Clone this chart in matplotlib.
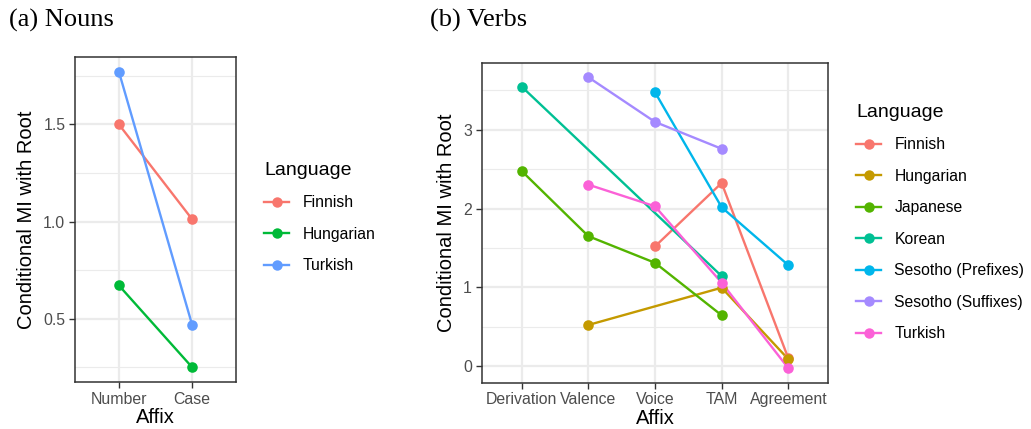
import numpy as np
import matplotlib
matplotlib.use("Agg")
import matplotlib.pyplot as plt
from matplotlib.lines import Line2D

# ---------------- data ----------------
noun_affixes = ["Number", "Case"]
noun_languages = ["Finnish", "Hungarian", "Turkish"]
noun_finnish = [1.50, 1.012]
noun_hungarian = [0.671, 0.25]
noun_turkish = [1.771, 0.469]

verb_affixes = ["Derivation", "Valence", "Voice", "TAM", "Agreement"]
verb_languages = ["Finnish", "Hungarian", "Japanese", "Korean",
                  "Sesotho (Prefixes)", "Sesotho (Suffixes)", "Turkish"]
nan = np.nan
verb_finnish = [nan, nan, 1.52, 2.325, 0.10]
verb_hungarian = [nan, 0.523, nan, 0.996, 0.089]
verb_japanese = [2.477, 1.65, 1.312, 0.646, nan]
verb_korean = [3.548, nan, nan, 1.143, nan]
verb_sesotho_pre = [nan, nan, 3.477, 2.017, 1.282]
verb_sesotho_suf = [nan, 3.667, 3.10, 2.759, nan]
verb_turkish = [nan, 2.304, 2.029, 1.059, -0.025]

noun_colors = ["#F8766D", "#00BA38", "#619CFF"]
verb_colors = ["#F8766D", "#C49A00", "#53B400", "#00C094",
               "#00B6EB", "#A58AFF", "#FB61D7"]

# ---------------- style ----------------
plt.rcParams["font.family"] = ["Liberation Sans", "DejaVu Sans"]
W, H = 1031, 429
fig = plt.figure(figsize=(W / 100, H / 100), dpi=100)

def px_axes(x0, y0, x1, y1):
    return fig.add_axes([x0 / W, 1 - y1 / H, (x1 - x0) / W, (y1 - y0) / H])

def style_axes(ax, minor_ticks):
    ax.set_facecolor("white")
    for s in ax.spines.values():
        s.set_color("#333333")
        s.set_linewidth(1.1)
    ax.set_axisbelow(True)
    ax.grid(True, which="major", color="#EBEBEB", linewidth=1.6, zorder=0)
    ax.set_yticks(minor_ticks, minor=True)
    ax.grid(True, which="minor", axis="y", color="#EBEBEB", linewidth=0.8, zorder=0)
    ax.tick_params(axis="both", which="major", direction="out", length=4,
                   width=1.0, color="#333333", labelcolor="#4D4D4D",
                   labelsize=11.4, pad=3)
    ax.tick_params(axis="y", which="minor", length=0)
    ax.set_xlabel("Affix", fontsize=14.5, color="black", labelpad=1)
    ax.set_ylabel("Conditional MI with Root", fontsize=14.5, color="black", labelpad=5)

def plot_series(ax, xcats, values, color):
    x = np.arange(len(xcats))
    v = np.array(values, dtype=float)
    m = ~np.isnan(v)
    ax.plot(x[m], v[m], color=color, linewidth=1.7, zorder=2,
            solid_capstyle="butt")
    return x[m], v[m]

def ggp_range(vals):
    lo, hi = np.nanmin(vals), np.nanmax(vals)
    e = (hi - lo) * 0.05
    return lo - e, hi + e

# ---------------- (a) Nouns ----------------
ax1 = px_axes(75, 57, 236, 382)
noun_series = [noun_finnish, noun_hungarian, noun_turkish]
pts = [plot_series(ax1, noun_affixes, s, c) for s, c in zip(noun_series, noun_colors)]
for (x, v), c in zip(pts, noun_colors):
    ax1.scatter(x, v, s=58, color=c, zorder=3, linewidths=0)
ax1.set_xticks(range(len(noun_affixes)))
ax1.set_xticklabels(noun_affixes)
ax1.set_xlim(-0.6, len(noun_affixes) - 0.4)
ax1.set_ylim(*ggp_range(np.concatenate(noun_series)))
ax1.set_yticks([0.5, 1.0, 1.5])
ax1.set_yticklabels(["0.5", "1.0", "1.5"])
style_axes(ax1, [0.25, 0.75, 1.25, 1.75])

# ---------------- (b) Verbs ----------------
ax2 = px_axes(481.7, 62.7, 828.3, 382.7)
verb_series = [verb_finnish, verb_hungarian, verb_japanese, verb_korean,
               verb_sesotho_pre, verb_sesotho_suf, verb_turkish]
pts = [plot_series(ax2, verb_affixes, s, c) for s, c in zip(verb_series, verb_colors)]
for (x, v), c in zip(pts, verb_colors):
    ax2.scatter(x, v, s=58, color=c, zorder=3, linewidths=0)
ax2.set_xticks(range(len(verb_affixes)))
ax2.set_xticklabels(verb_affixes)
ax2.set_xlim(-0.6, len(verb_affixes) - 0.4)
ax2.set_ylim(*ggp_range(np.concatenate(verb_series)))
ax2.set_yticks([0, 1, 2, 3])
style_axes(ax2, [0.5, 1.5, 2.5, 3.5])

# ---------------- legends ----------------
def make_legend(ax, labels, colors, x_px, y_px):
    handles = [Line2D([0], [0], color=c, linewidth=1.7, marker="o",
                      markersize=7.5, markeredgewidth=0) for c in colors]
    leg = ax.legend(handles, labels, title="Language", loc="upper left",
                    bbox_to_anchor=(x_px / W, 1 - y_px / H),
                    bbox_transform=fig.transFigure, frameon=False,
                    fontsize=11.3, title_fontsize=14, handlelength=1.6,
                    handletextpad=0.85, labelspacing=1.05, borderpad=0,
                    borderaxespad=0, alignment="left")
    return leg

make_legend(ax1, noun_languages, noun_colors, 264, 162)
make_legend(ax2, verb_languages, verb_colors, 856, 104)

# ---------------- panel captions ----------------
fig.text(9 / W, 1 - 20 / H, "(a) Nouns", family=["Liberation Serif"],
         fontsize=19, va="center", ha="left")
fig.text(430 / W, 1 - 20 / H, "(b) Verbs", family=["Liberation Serif"],
         fontsize=19, va="center", ha="left")

fig.savefig("out.png", dpi=100)
